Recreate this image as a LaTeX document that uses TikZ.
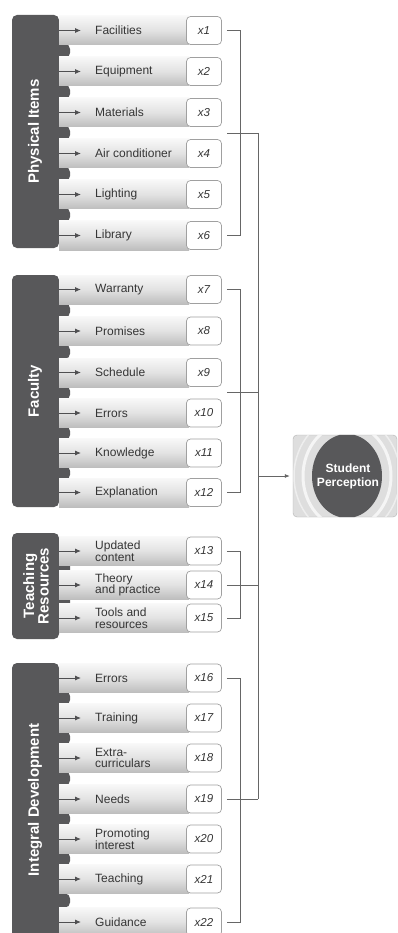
\documentclass[tikz,border=0pt]{standalone}
\usepackage{fontspec}
\setmainfont{Liberation Sans}
\usetikzlibrary{arrows.meta}
\definecolor{panel}{HTML}{58585A}
\definecolor{txt}{HTML}{353535}
\definecolor{conn}{HTML}{666666}
\definecolor{barT}{HTML}{F8F8F8}
\definecolor{barM}{HTML}{E2E2E2}
\definecolor{barB}{HTML}{BDBDBD}
\definecolor{boxline}{HTML}{A0A0A0}
\begin{document}
\begin{tikzpicture}[x=1pt,y=-1pt,
  bar/.style={anchor=west, minimum width=130pt, minimum height=29pt, inner sep=0pt,
    top color=barT, bottom color=barB, middle color=barM},
  lbl/.style={anchor=west, inner sep=0pt, text=txt, align=left,
    font=\fontsize{12}{11.5}\selectfont},
  xbox/.style={draw=boxline, line width=0.7pt, fill=white, rounded corners=4pt,
    minimum width=35pt, minimum height=28pt, inner sep=0pt, text=txt,
    font=\fontsize{11.5}{12}\selectfont\itshape},
  arr/.style={draw=panel!90!black, line width=0.9pt, -{Latex[length=6pt,width=5pt]}},
  plabel/.style={rotate=90, text=white, align=center, inner sep=0pt,
    font=\fontsize{15}{13}\selectfont\bfseries},
  cline/.style={draw=conn, line width=0.8pt},
  tab/.style={fill=panel, rounded corners=5pt}]
\useasboundingbox (0,0) rectangle (398,933);
\fill[white] (0,0) rectangle (398,933);

% ---------- panels ----------
\fill[panel, rounded corners=5pt] (12,15) rectangle (59,248);
\fill[panel, rounded corners=5pt] (12,275) rectangle (59,507);
\fill[panel, rounded corners=5pt] (12,533) rectangle (59,639);
\fill[panel, rounded corners=5pt] (12,663) rectangle (59,945);
\foreach \g in {51,92,133,174,215,
                310.25,351.75,392.75,433,472.75,
                568,601.5,
                698,738,778.5,819,859,900.5}{
  \fill[tab] (52,\g-7) rectangle (70,\g+7);
}

% ---------- rows ----------
\foreach \y/\t/\n in {30.5/Facilities/1, 71.5/Equipment/2, 112.5/Materials/3,
    153.5/Air conditioner/4, 194.5/Lighting/5, 235.5/Library/6,
    289.5/Warranty/7, 331/Promises/8, 372.5/Schedule/9,
    413/Errors/10, 453/Knowledge/11, 492.5/Explanation/12,
    551/{Updated\\content}/13, 585/{Theory\\and practice}/14, 618/{Tools and\\resources}/15,
    678/Errors/16, 718/Training/17, 758/{Extra-\\curriculars}/18,
    799/Needs/19, 839/{Promoting\\interest}/20, 879/Teaching/21, 922/Guidance/22}{
  \node[bar] (b\n) at (59,\y) {};
  \draw[arr] (b\n.west) -- ++(22,0);
  \node[lbl] (l\n) at (95,\y) {\t};
  \node[xbox] (x\n) at (204,\y) {x\n};
}

% ---------- panel labels ----------
\node[plabel] (p1) at (35,131.5) {Physical Items};
\node[plabel] (p2) at (35,391) {Faculty};
\node[plabel] (p3) at (36,586) {Teaching\\Resources};
\node[plabel] (p4) at (35,800) {Integral Development};

% ---------- student perception ----------
\node[draw=boxline!80, fill=black!13, rounded corners=4pt, minimum width=104pt,
      minimum height=82pt, inner sep=0pt] (sp) at (345,476) {};
\begin{scope}
  \clip[rounded corners=4pt] (sp.south west) rectangle (sp.north east);
  \draw[white, line width=3pt, opacity=0.7] (347,476) ellipse (44 and 52);
  \draw[white, line width=1.5pt, opacity=0.5] (347,476) ellipse (53 and 60);
  \fill[panel] (347,476) ellipse (35 and 42);
\end{scope}
\node[text=white, align=center, inner sep=0pt,
      font=\fontsize{12}{14}\selectfont\bfseries] (spt) at (348,476) {Student\\Perception};

% ---------- connectors ----------
\coordinate (brk) at (240,0);
\coordinate (spine) at (258,0);
\coordinate (m1) at (227,133);
\coordinate (m2) at (227,392.5);

\draw[cline, shorten <=5pt, shorten >=5pt] (x1.east) -- (x1.east -| brk) -- (x6.east -| brk) -- (x6.east);
\draw[cline, shorten <=5pt, shorten >=5pt] (x7.east) -- (x7.east -| brk) -- (x12.east -| brk) -- (x12.east);
\draw[cline, shorten <=5pt, shorten >=5pt] (x13.east) -- (x13.east -| brk) -- (x15.east -| brk) -- (x15.east);
\draw[cline, shorten <=5pt, shorten >=5pt] (x16.east) -- (x16.east -| brk) -- (x22.east -| brk) -- (x22.east);

\draw[cline] (m1) -- (m1 -| spine);
\draw[cline] (m2) -- (m2 -| spine);
\draw[cline, shorten <=5pt] (x14.east) -- (x14.east -| spine);
\draw[cline, shorten <=5pt] (x19.east) -- (x19.east -| spine);
\draw[cline] (m1 -| spine) -- (x19.east -| spine);
\draw[cline, -{Latex[length=5pt,width=4pt]}, shorten >=3pt] (spine |- sp.west) -- (sp.west);
\end{tikzpicture}
\end{document}
